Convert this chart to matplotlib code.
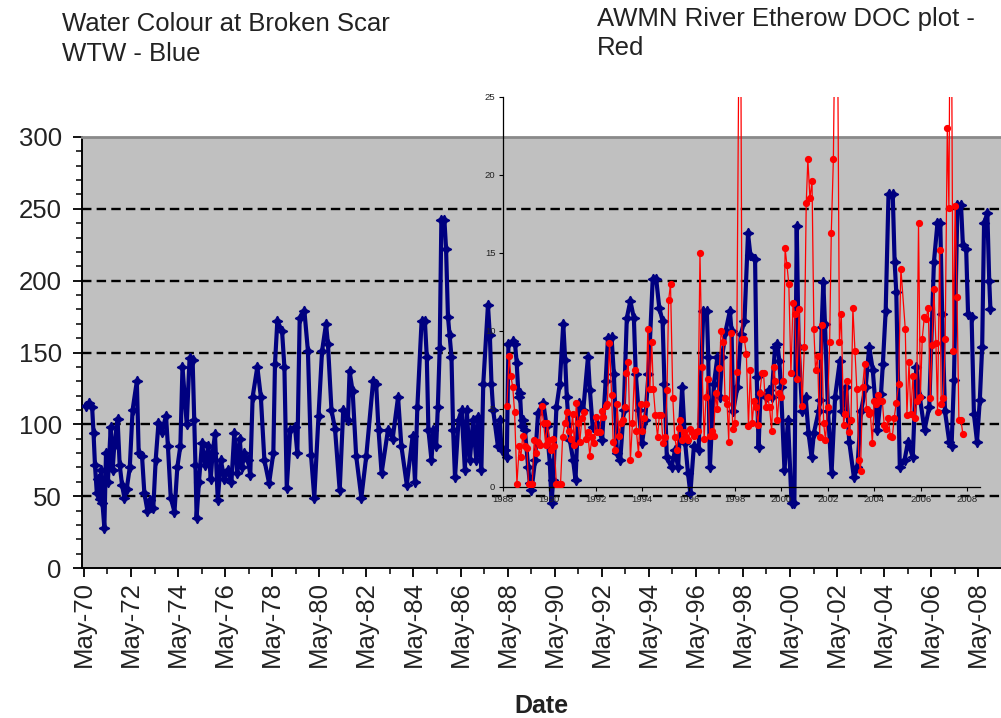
import matplotlib
matplotlib.use('Agg')
import matplotlib.pyplot as plt
from matplotlib.ticker import FixedLocator

plt.rcParams['font.family'] = ['Liberation Sans', 'DejaVu Sans']

# ---------------- data ----------------
# Water colour at Broken Scar WTW (decimal year, Hazen)
blue_year = [
    1970.40, 1970.55, 1970.68, 1970.74, 1970.80, 1970.88, 1970.95, 1971.00, 1971.06, 1971.12,
    1971.20, 1971.27, 1971.35, 1971.47, 1971.55, 1971.62, 1971.76, 1971.85, 1971.95, 1972.05,
    1972.15, 1972.28, 1972.40, 1972.58, 1972.66, 1972.80, 1972.90, 1973.03, 1973.15, 1973.28,
    1973.38, 1973.50, 1973.65, 1973.82, 1973.90, 1974.02, 1974.18, 1974.30, 1974.43, 1974.52,
    1974.70, 1974.82, 1974.95, 1975.02, 1975.07, 1975.12, 1975.22, 1975.35, 1975.48, 1975.62,
    1975.72, 1975.80, 1975.90, 1976.02, 1976.15, 1976.30, 1976.45, 1976.60, 1976.72, 1976.85,
    1976.95, 1977.05, 1977.15, 1977.30, 1977.40, 1977.50, 1977.70, 1977.85, 1978.00, 1978.20,
    1978.38, 1978.45, 1978.55, 1978.75, 1978.85, 1978.95, 1979.10, 1979.30, 1979.40, 1979.50,
    1979.70, 1979.85, 1979.98, 1980.12, 1980.30, 1980.45, 1980.62, 1980.70, 1980.85, 1981.00,
    1981.20, 1981.35, 1981.55, 1981.62, 1981.75, 1981.90, 1982.12, 1982.33, 1982.62, 1982.75,
    1982.85, 1982.98, 1983.25, 1983.45, 1983.68, 1983.82, 1984.05, 1984.30, 1984.40, 1984.50,
    1984.68, 1984.82, 1984.90, 1984.97, 1985.10, 1985.18, 1985.30, 1985.37, 1985.45, 1985.52,
    1985.65, 1985.72, 1985.80, 1985.87, 1985.95, 1986.02, 1986.10, 1986.25, 1986.38, 1986.52,
    1986.60, 1986.73, 1986.87, 1987.00, 1987.08, 1987.22, 1987.30, 1987.50, 1987.58, 1987.65,
    1987.72, 1987.92, 1988.00, 1988.08, 1988.22, 1988.30, 1988.37, 1988.58, 1988.65, 1988.72,
    1988.80, 1988.86, 1988.93, 1989.00, 1989.07, 1989.21, 1989.28, 1989.35, 1989.50, 1989.63,
    1989.85, 1989.99, 1990.13, 1990.20, 1990.27, 1990.41, 1990.55, 1990.70, 1990.78, 1990.85,
    1990.98, 1991.12, 1991.22, 1991.35, 1991.55, 1991.75, 1991.83, 1991.95, 1992.15, 1992.35,
    1992.50, 1992.60, 1992.75, 1992.85, 1992.98, 1993.12, 1993.27, 1993.40, 1993.55, 1993.70,
    1993.78, 1993.90, 1994.05, 1994.18, 1994.32, 1994.50, 1994.65, 1994.78, 1994.92, 1995.00,
    1995.10, 1995.30, 1995.45, 1995.58, 1995.75, 1995.88, 1996.00, 1996.10, 1996.25, 1996.45,
    1996.65, 1996.80, 1996.86, 1996.93, 1997.10, 1997.25, 1997.35, 1997.45, 1997.60, 1997.78,
    1997.85, 1997.92, 1998.10, 1998.25, 1998.40, 1998.55, 1998.65, 1998.85, 1998.92, 1999.00,
    1999.08, 1999.30, 1999.45, 1999.55, 1999.70, 1999.80, 1999.88, 1999.95, 2000.10, 2000.25,
    2000.40, 2000.52, 2000.62, 2000.70, 2000.85, 2001.00, 2001.12, 2001.25, 2001.35, 2001.55,
    2001.62, 2001.68, 2001.75, 2001.82, 2001.95, 2002.10, 2002.25, 2002.45, 2002.55, 2002.72,
    2002.85, 2003.05, 2003.20, 2003.35, 2003.55, 2003.70, 2003.85, 2004.05, 2004.20, 2004.28,
    2004.40, 2004.52, 2004.70, 2004.78, 2004.85, 2005.00, 2005.20, 2005.35, 2005.55, 2005.70,
    2005.85, 2006.05, 2006.25, 2006.45, 2006.60, 2006.72, 2006.80, 2006.92, 2007.10, 2007.20,
    2007.30, 2007.45, 2007.60, 2007.68, 2007.82, 2007.90, 2008.05, 2008.15, 2008.28, 2008.40,
    2008.50, 2008.58, 2008.72, 2008.80, 2008.85,
]
blue_val = [
    113, 115, 112, 94, 72, 52, 62, 48, 68, 45,
    28, 80, 60, 98, 68, 85, 104, 72, 58, 49,
    55, 70, 110, 130, 80, 78, 52, 40, 47, 42,
    75, 101, 95, 106, 85, 49, 39, 70, 85, 140,
    100, 146, 145, 103, 72, 35, 60, 87, 72, 85,
    62, 80, 93, 47, 75, 62, 68, 60, 94, 66,
    90, 70, 80, 75, 65, 119, 140, 119, 75, 59,
    80, 142, 172, 165, 140, 56, 96, 98, 80, 174,
    179, 151, 79, 49, 106, 151, 170, 156, 110, 97,
    54, 110, 103, 137, 123, 78, 49, 78, 130, 128,
    96, 66, 96, 90, 119, 85, 58, 92, 60, 112,
    172, 172, 147, 96, 75, 96, 85, 112, 153, 242,
    242, 222, 175, 162, 147, 96, 63, 103, 110, 68,
    110, 75, 103, 75, 105, 68, 128, 183, 162, 128,
    110, 85, 103, 82, 82, 77, 156, 158, 156, 143,
    119, 122, 99, 103, 96, 70, 59, 54, 75, 108,
    115, 99, 73, 45, 61, 112, 128, 170, 145, 119,
    89, 75, 61, 115, 110, 147, 124, 98, 100, 89,
    130, 160, 161, 135, 80, 75, 110, 174, 186, 174,
    135, 110, 87, 103, 135, 201, 201, 181, 172, 128,
    77, 70, 82, 70, 126, 87, 66, 52, 85, 82,
    179, 179, 147, 70, 128, 147, 119, 147, 165, 179,
    165, 109, 126, 163, 172, 233, 218, 215, 133, 84,
    121, 119, 124, 119, 154, 156, 144, 126, 68, 103,
    45, 45, 238, 154, 109, 119, 94, 77, 94, 109,
    117, 168, 199, 170, 109, 66, 119, 144, 109, 126,
    88, 63, 70, 109, 126, 154, 138, 96, 121, 142,
    179, 260, 260, 213, 192, 70, 75, 88, 77, 140,
    119, 96, 112, 213, 240, 240, 177, 109, 88, 85,
    131, 253, 253, 225, 222, 177, 175, 107, 88, 117,
    154, 240, 247, 200, 180,
]

# AWMN River Etherow DOC (decimal year, mg/l)
red_year = [
    1988.17, 1988.26, 1988.34, 1988.42, 1988.50, 1988.60, 1988.70, 1988.77, 1988.85, 1988.93,
    1989.03, 1989.10, 1989.18, 1989.26, 1989.35, 1989.42, 1989.50, 1989.58, 1989.66, 1989.75,
    1989.84, 1989.91, 1990.00, 1990.08, 1990.15, 1990.21, 1990.30, 1990.38, 1990.48, 1990.57,
    1990.67, 1990.74, 1990.83, 1990.91, 1991.00, 1991.08, 1991.16, 1991.24, 1991.31, 1991.40,
    1991.49, 1991.57, 1991.66, 1991.74, 1991.83, 1991.92, 1991.99, 1992.07, 1992.16, 1992.25,
    1992.33, 1992.42, 1992.50, 1992.59, 1992.68, 1992.75, 1992.82, 1992.92, 1993.00, 1993.08,
    1993.17, 1993.24, 1993.32, 1993.40, 1993.49, 1993.58, 1993.67, 1993.75, 1993.84, 1993.93,
    1994.00, 1994.08, 1994.17, 1994.24, 1994.33, 1994.41, 1994.48, 1994.57, 1994.66, 1994.74,
    1994.82, 1994.90, 1994.99, 1995.07, 1995.14, 1995.22, 1995.32, 1995.40, 1995.49, 1995.58,
    1995.65, 1995.72, 1995.80, 1995.89, 1995.98, 1996.06, 1996.14, 1996.24, 1996.32, 1996.40,
    1996.49, 1996.58, 1996.67, 1996.75, 1996.82, 1996.91, 1997.00, 1997.08, 1997.16, 1997.24,
    1997.33, 1997.40, 1997.50, 1997.57, 1997.66, 1997.73, 1997.81, 1997.90, 1997.99, 1998.07,
    1998.22, 1998.30, 1998.40, 1998.49, 1998.58, 1998.66, 1998.74, 1998.82, 1998.90, 1998.99,
    1999.07, 1999.16, 1999.23, 1999.32, 1999.41, 1999.49, 1999.58, 1999.66, 1999.74, 1999.82,
    1999.91, 1999.99, 2000.08, 2000.16, 2000.24, 2000.32, 2000.41, 2000.50, 2000.57, 2000.67,
    2000.76, 2000.89, 2000.99, 2001.07, 2001.14, 2001.23, 2001.32, 2001.40, 2001.47, 2001.56,
    2001.65, 2001.73, 2001.82, 2001.90, 2001.99, 2002.08, 2002.15, 2002.24, 2002.38, 2002.50,
    2002.58, 2002.68, 2002.75, 2002.84, 2002.91, 2003.00, 2003.08, 2003.17, 2003.25, 2003.34,
    2003.41, 2003.50, 2003.59, 2003.67, 2003.76, 2003.83, 2003.92, 2004.00, 2004.09, 2004.18,
    2004.26, 2004.35, 2004.43, 2004.52, 2004.61, 2004.69, 2004.78, 2004.86, 2004.95, 2005.05,
    2005.15, 2005.34, 2005.41, 2005.50, 2005.58, 2005.67, 2005.76, 2005.83, 2005.91, 2005.99,
    2006.07, 2006.16, 2006.24, 2006.33, 2006.42, 2006.49, 2006.57, 2006.66, 2006.73, 2006.82,
    2006.89, 2006.98, 2007.06, 2007.15, 2007.22, 2007.30, 2007.40, 2007.49, 2007.57, 2007.65,
    2007.74, 2007.82,
]
red_val = [
    5.2, 8.4, 7.1, 6.4, 4.8, 0.2, 2.6, 1.9, 3.3, 2.6,
    2.5, 0.2, 0.2, 0.2, 3.0, 2.2, 2.9, 2.7, 5.2, 4.1,
    2.7, 4.1, 3.0, 2.4, 3.1, 2.6, 0.2, 0.2, 0.2, 3.2,
    4.1, 4.8, 3.6, 3.1, 4.7, 2.7, 5.4, 4.1, 2.9, 4.4,
    4.8, 3.1, 3.5, 2.0, 3.2, 2.8, 4.5, 3.5, 3.5, 4.9,
    4.5, 5.2, 5.3, 9.2, 5.9, 2.9, 2.4, 5.3, 3.3, 4.1,
    4.3, 5.1, 7.3, 8.0, 1.7, 4.1, 7.5, 3.6, 2.1, 5.3,
    3.6, 4.4, 5.3, 10.1, 6.3, 9.3, 6.3, 4.6, 3.2, 4.6,
    4.6, 2.8, 3.2, 6.2, 12.0, 13.0, 5.7, 3.2, 2.4, 3.8,
    4.3, 3.0, 3.5, 3.2, 3.0, 3.7, 3.5, 3.3, 3.5, 3.6,
    15.0, 7.7, 3.1, 5.8, 6.9, 3.3, 3.6, 3.3, 6.0, 5.0,
    7.6, 10.0, 9.3, 5.7, 5.3, 2.9, 9.9, 3.7, 4.1, 7.4,
    40.0, 9.5, 9.5, 8.5, 3.9, 7.5, 4.1, 5.5, 5.1, 4.0,
    6.0, 7.3, 7.3, 5.1, 5.8, 5.1, 3.6, 7.7, 6.8, 4.3,
    6.0, 5.8, 6.8, 15.3, 14.2, 13.0, 7.3, 11.8, 11.1, 6.9,
    11.4, 5.2, 9.0, 18.2, 21.0, 18.5, 19.6, 10.1, 7.5, 8.4,
    3.2, 10.4, 4.1, 3.0, 5.1, 9.3, 16.3, 21.0, 40.0, 9.3,
    11.1, 4.0, 4.7, 6.8, 3.5, 4.3, 11.5, 8.7, 6.3, 1.7,
    1.0, 6.4, 7.9, 5.0, 4.7, 4.8, 2.8, 5.5, 5.3, 5.9,
    5.5, 5.5, 4.0, 3.7, 4.4, 3.3, 3.2, 4.4, 5.4, 6.6,
    14.0, 10.1, 4.6, 8.0, 4.7, 7.1, 4.4, 5.5, 16.9, 5.8,
    9.5, 10.9, 10.8, 11.5, 5.7, 9.1, 12.7, 9.2, 4.8, 15.2,
    5.3, 5.7, 9.5, 23.0, 17.9, 40.0, 8.7, 18.0, 12.2, 4.3,
    4.3, 3.4,
]

# axis ticks / labels
main_yticks = [0, 50, 100, 150, 200, 250, 300]
grid_levels = [50, 100, 150, 200, 250]
label_years = list(range(1970, 2009, 2))
minor_years = list(range(1971, 2010, 2))
inset_xticks = list(range(1988, 2009, 2))
inset_yticks = [0, 5, 10, 15, 20, 25]
title_left = "Water Colour at Broken Scar\nWTW - Blue"
title_right = "AWMN River Etherow DOC plot -\nRed"

# ---------------- figure ----------------
W, H = 1001, 718
fig = plt.figure(figsize=(W / 100, H / 100), dpi=100)
fig.patch.set_facecolor('white')

txt_col = '#222222'

ax = fig.add_axes([82 / W, (H - 568) / H, (W - 82) / W, (568 - 137) / H])
ax.set_facecolor('#C0C0C0')
for v in grid_levels:
    ax.axhline(v, color='black', lw=1.7, ls=(0, (4, 2.2)), zorder=2)
ax.plot(blue_year, blue_val, color='#000080', lw=3.0, marker=(4, 1, 0),
        ms=7.5, mec='#000080', mfc='#000080', zorder=3, clip_on=True)
ax.set_xlim(1970.25, 2009.30)
ax.set_ylim(0, 300)

may = 4 / 12.0
ax.xaxis.set_major_locator(FixedLocator([y + may for y in label_years]))
ax.xaxis.set_minor_locator(FixedLocator([y + may for y in minor_years]))
ax.set_xticklabels([f"May-{y % 100:02d}" for y in label_years], rotation=90)
ax.set_yticks(main_yticks)
ax.yaxis.set_minor_locator(FixedLocator(list(range(0, 301, 10))))
ax.tick_params(axis='both', which='major', direction='out', length=6.5, width=1.3,
               labelsize=18.5, colors='black', labelcolor=txt_col)
ax.tick_params(axis='both', which='minor', direction='out', length=4, width=1.1)
ax.tick_params(axis='y', which='major', pad=8)
ax.tick_params(axis='x', which='major', pad=3)

ax.spines['top'].set_color('#8a8a8a')
ax.spines['top'].set_linewidth(2)
ax.spines['right'].set_visible(False)
ax.spines['left'].set_linewidth(1.4)
ax.spines['bottom'].set_linewidth(1.4)

ax.set_xlabel('Date', fontsize=18, fontweight='bold', color=txt_col, labelpad=19)

# ---------------- inset (DOC) ----------------
ax2 = fig.add_axes([503 / W, (H - 487) / H, (980 - 503) / W, (487 - 97) / H])
ax2.patch.set_visible(False)
ax2.plot(red_year, red_val, color='#FF0000', lw=0.9, marker='o', ms=4.2,
         mec='#FF0000', mfc='#FF0000', zorder=4)
ax2.set_xlim(1988, 2008.56)
ax2.set_ylim(0, 25)
ax2.set_xticks(inset_xticks)
ax2.set_yticks(inset_yticks)
ax2.tick_params(axis='both', direction='out', length=3, width=0.8,
                labelsize=6.8, labelcolor=txt_col, pad=2.5)
for lab in ax2.get_xticklabels() + ax2.get_yticklabels():
    lab.set_family(['Liberation Sans Narrow', 'Liberation Sans', 'DejaVu Sans'])
ax2.spines['top'].set_visible(False)
ax2.spines['right'].set_visible(False)
ax2.spines['left'].set_linewidth(0.9)
ax2.spines['bottom'].set_linewidth(0.9)

# ---------------- titles ----------------
fig.text(62 / W, 1 - 12 / H, title_left, ha='left', va='top', fontsize=18.5,
         color=txt_col, linespacing=1.3)
fig.text(597 / W, 1 - 7 / H, title_right, ha='left', va='top', fontsize=18.5,
         color=txt_col, linespacing=1.25)

fig.savefig('out.png', dpi=100)
